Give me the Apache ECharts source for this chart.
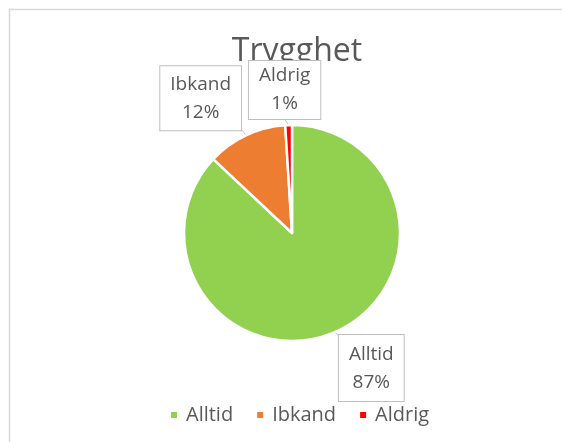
<!DOCTYPE html>
<html><head><meta charset="utf-8">
<script src="https://cdn.jsdelivr.net/npm/echarts@6/dist/echarts.min.js"></script>
<style>html,body{margin:0;padding:0;background:#fff}#c{width:562px;height:442px}</style>
</head><body><div id="c"></div>
<script>
const titleText = 'Trygghet';
const categories = ['Alltid', 'Ibkand', 'Aldrig'];
const values = [87, 12, 1];
const colors = ['#92D050', '#ED7D31', '#FF0000'];

const CX = 292, CY = 233, R = 108;
const LABEL_FONT = '19px "Open Sans"';
const PADX = 10;
const total = values.reduce((a, b) => a + b, 0);
const mids = [];
let acc = 0;
values.forEach(v => { mids.push((acc + v / 2) / total * 2 * Math.PI); acc += v; });
// anchor: [align, verticalAlign, dx, dy]
const anchors = [['left', 'top', 3, 3], ['right', 'bottom', -4, -5], ['center', 'bottom', -4, -6]];
const padsY = [5, 4, 1];

const mctx = document.createElement('canvas').getContext('2d');
mctx.font = LABEL_FONT;
function labelText(i) { return categories[i] + '\n' + Math.round(values[i] / total * 100) + '%'; }
function boxWidth(i) {
  const lines = labelText(i).split('\n');
  return Math.max.apply(null, lines.map(l => mctx.measureText(l).width)) + 2 * PADX + 2;
}

const chart = echarts.init(document.getElementById('c'), null, {renderer: 'canvas'});
chart.setOption({
  animation: false,
  color: colors,
  title: {
    text: titleText, left: CX, textAlign: 'center', top: 31, z: 1,
    textStyle: {fontFamily: 'Open Sans', fontSize: 32, fontWeight: 'normal', color: '#595959'}
  },
  legend: {
    data: categories, top: 400, left: 164,
    icon: 'rect', itemWidth: 8, itemHeight: 8, itemGap: 22,
    textStyle: {fontFamily: 'Open Sans', fontSize: 20, color: '#595959', padding: [0, 0, 0, 3]}
  },
  graphic: [{
    type: 'rect', shape: {x: 9.5, y: 9.5, width: 700, height: 600},
    style: {fill: 'none', stroke: '#d9d9d9', lineWidth: 1.5}, silent: true, z: -10
  }],
  series: [{
    type: 'pie', center: [CX, CY], radius: R, startAngle: 90, clockwise: true, z: 10,
    itemStyle: {borderColor: '#fff', borderWidth: 2.5},
    data: categories.map((c, i) => ({name: c, value: values[i], label: {padding: [padsY[i], PADX]}})),
    label: {
      show: true, position: 'outside',
      formatter: p => labelText(p.dataIndex),
      fontFamily: 'Open Sans', fontSize: 19, lineHeight: 28, color: '#595959', align: 'center',
      backgroundColor: '#fff', borderColor: '#bfbfbf', borderWidth: 1, padding: [4, PADX]
    },
    labelLine: {show: true, length: 4, length2: 2, lineStyle: {color: '#bfbfbf', width: 1}},
    labelLayout: function (p) {
      const i = p.dataIndex;
      const a = mids[i];
      const ex = CX + R * Math.sin(a), ey = CY - R * Math.cos(a);
      const an = anchors[i];
      const ax = ex + an[2], ay = ey + an[3];
      const w = boxWidth(i);
      let x = ax;
      if (an[0] === 'left') x = ax + w / 2;
      else if (an[0] === 'right') x = ax - w / 2;
      return {
        x: x, y: ay, align: 'center', verticalAlign: an[1],
        labelLinePoints: [[ex, ey], [(ex + ax) / 2, (ey + ay) / 2], [ax, ay]]
      };
    }
  }]
});
</script></body></html>
